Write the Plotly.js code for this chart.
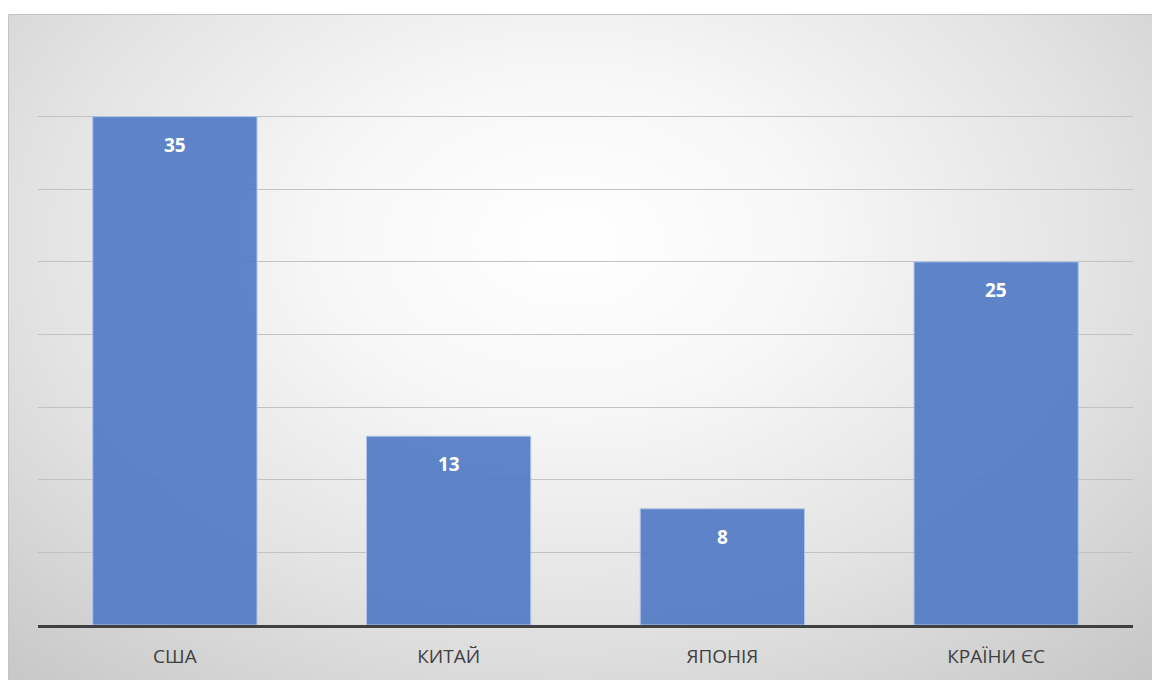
<!DOCTYPE html>
<html>
<head>
<meta charset="utf-8">
<script src="https://cdn.plot.ly/plotly-3.0.1.min.js"></script>
<style>
  html, body { margin: 0; padding: 0; background: #ffffff; }
  #frame {
    position: absolute; left: 8px; top: 14px; width: 1144px; height: 666px;
    background: radial-gradient(ellipse 75% 90% at 49% 34%, #ffffff 0%, #f7f7f7 28%, #e3e3e3 62%, #c6c6c6 100%);
    border-top: 1px solid #c4c4c4; border-left: 1px solid #c4c4c4;
    box-sizing: border-box;
  }
  #chart { position: absolute; left: 0; top: 0; width: 1152px; height: 680px; }
</style>
</head>
<body>
<div id="frame"></div>
<div id="chart"></div>
<script>
const categories = ["США", "КИТАЙ", "ЯПОНІЯ", "КРАЇНИ ЄС"];
const values = [35, 13, 8, 25];

const trace = {
  type: "bar",
  x: categories,
  y: values,
  marker: { color: "rgb(84,124,198)", line: { color: "rgba(170,195,235,1)", width: 1 } },
  opacity: 0.93,
  hoverinfo: "none"
};

const annotations = categories.map((c, i) => ({
  x: c, y: values[i], xref: "x", yref: "y",
  text: "<b>" + values[i] + "</b>",
  showarrow: false, yanchor: "middle", yshift: -28,
  font: { family: "Open Sans, sans-serif", size: 19, color: "#ffffff" }
}));

const layout = {
  width: 1152, height: 680,
  margin: { l: 38, r: 19, t: 44, b: 55 },
  paper_bgcolor: "rgba(0,0,0,0)",
  plot_bgcolor: "rgba(0,0,0,0)",
  bargap: 0.4,
  showlegend: false,
  xaxis: {
    showline: true, linecolor: "#404040", linewidth: 3,
    ticks: "", showgrid: false,
    tickfont: { family: "Open Sans, sans-serif", size: 19, color: "#404040" },
    ticklabelstandoff: 12
  },
  yaxis: {
    range: [0, 40], dtick: 5, showticklabels: false, ticks: "",
    showgrid: true, gridcolor: "#c2c2c2", gridwidth: 1,
    zeroline: false, showline: false
  },
  annotations: annotations
};

Plotly.newPlot("chart", [trace], layout, { displayModeBar: false, staticPlot: true });
</script>
</body>
</html>
